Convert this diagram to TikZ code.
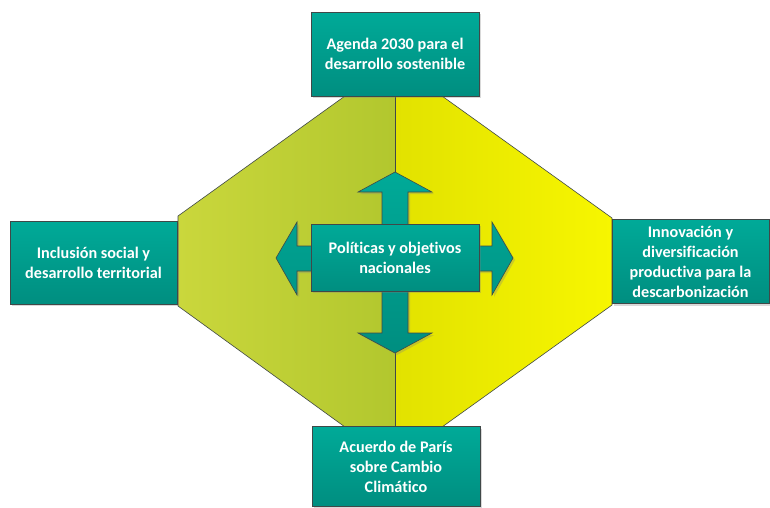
\documentclass[tikz,border=0pt]{standalone}
\usepackage{fontspec}
\setmainfont[Ligatures=NoCommon]{Carlito}
\usetikzlibrary{shadows}

\definecolor{verdeA}{RGB}{202,215,60}
\definecolor{verdeB}{RGB}{178,199,46}
\definecolor{amarA}{RGB}{226,226,0}
\definecolor{amarB}{RGB}{247,246,0}
\definecolor{tealA}{RGB}{0,170,152}
\definecolor{tealB}{RGB}{0,142,128}
\definecolor{borde}{RGB}{64,72,72}

\begin{document}
\begin{tikzpicture}[x=1pt,y=-1pt,
  caja/.style={draw=borde,line width=0.8pt,top color=tealA,bottom color=tealB,
    text=white,align=center,inner sep=2pt,
    font=\fontsize{16.2}{20}\selectfont\bfseries,
    drop shadow={shadow xshift=2pt,shadow yshift=-2pt,opacity=0.3}},
  lado/.style={draw=borde,line width=0.6pt}]
\useasboundingbox (0,0) rectangle (770,507);

% hexagono de fondo
\shade[left color=verdeA,right color=verdeB] (345,96) -- (178,216) -- (178,306) -- (345,427) -- (395,427) -- (395,96) -- cycle;
\shade[left color=amarA,right color=amarB] (395,96) -- (442,96) -- (612,218) -- (612,305) -- (442,427) -- (395,427) -- cycle;
\draw[lado] (345,96) -- (178,216) -- (178,306) -- (345,427);
\draw[lado] (442,96) -- (612,218) -- (612,305) -- (442,427);
\draw[lado] (395,96) -- (395,427);

% flecha en cruz
\draw[lado,top color=tealA,bottom color=tealB,
  drop shadow={shadow xshift=2pt,shadow yshift=-2pt,opacity=0.3}]
  (395,172) -- (432,192) -- (408,192) -- (408,246) -- (492,246) -- (492,222)
  -- (513,258) -- (492,295) -- (492,271) -- (408,271) -- (408,333) -- (432,333)
  -- (395,353) -- (358,333) -- (382,333) -- (382,271) -- (297,271) -- (297,295)
  -- (276,258) -- (297,222) -- (297,246) -- (382,246) -- (382,192) -- (358,192) -- cycle;

% cajas
\node[caja,minimum width=168pt,minimum height=84pt] (agenda) at (395,54) {Agenda 2030 para el\\desarrollo sostenible};
\node[caja,minimum width=167pt,minimum height=83pt] (inclusion) at (93.5,262.5) {Inclusión social y\\desarrollo territorial};
\node[caja,minimum width=157pt,minimum height=84pt] (innovacion) at (690.5,261.5) {Innovación y\\diversificación\\productiva para la\\descarbonización};
\node[caja,minimum width=168pt,minimum height=80pt] (paris) at (396,466.5) {Acuerdo de París\\sobre Cambio\\Climático};
\node[caja,minimum width=168pt,minimum height=67pt] (politicas) at (395,257.5) {Políticas y objetivos\\nacionales};
\end{tikzpicture}
\end{document}
